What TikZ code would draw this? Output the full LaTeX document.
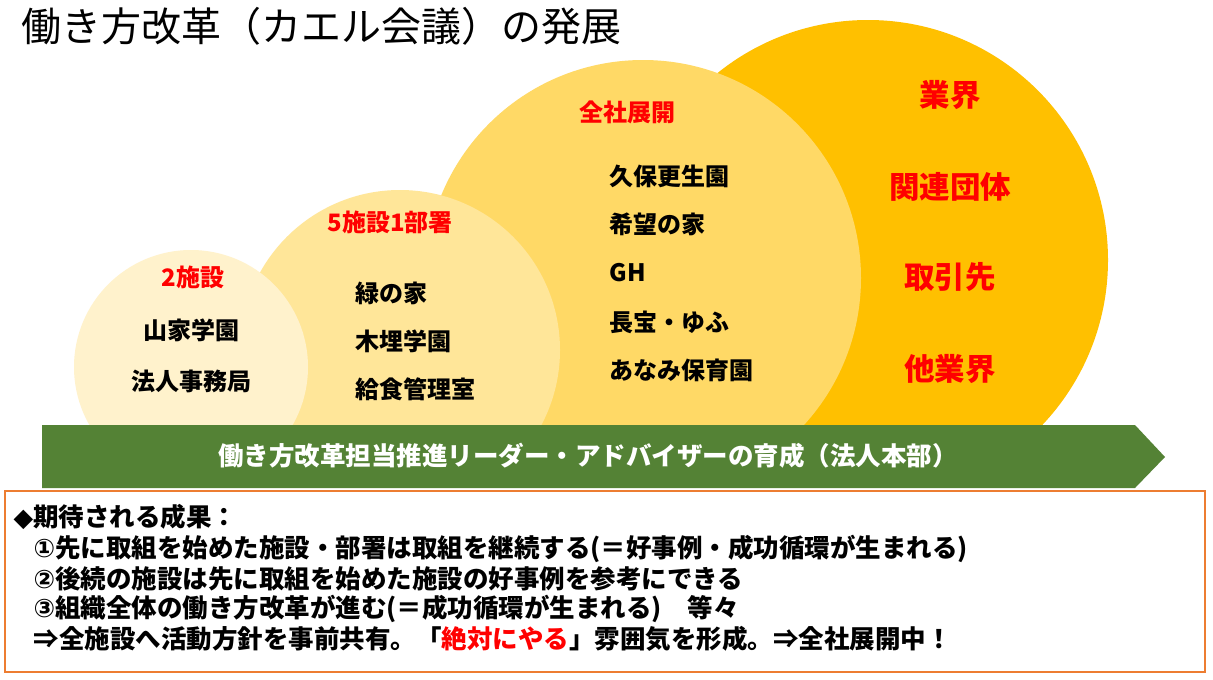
\documentclass[tikz,border=0pt]{standalone}
\usepackage{fontspec}
\setmainfont{Noto Sans CJK JP}
\newfontfamily\symf{DejaVu Sans}
\definecolor{c1}{HTML}{FFF2CC}
\definecolor{c2}{HTML}{FFE699}
\definecolor{c3}{HTML}{FFD966}
\definecolor{c4}{HTML}{FFC000}
\definecolor{grn}{HTML}{548235}
\definecolor{org}{HTML}{ED7D31}
\definecolor{rd}{HTML}{FF0000}
\begin{document}
\begin{tikzpicture}[x=1pt,y=-1pt,
  lab/.style={font=\fontsize{24}{28}\selectfont\bfseries,anchor=center},
  hd/.style={font=\fontsize{24}{28}\selectfont\bfseries,text=rd},
  big/.style={font=\fontsize{30.5}{36}\selectfont\bfseries,text=rd},
  bx/.style={font=\fontsize{25.5}{30}\selectfont\bfseries,anchor=west}]
\useasboundingbox (0,0) rectangle (1213,680);
\fill[white] (0,0) rectangle (1213,680);
\begin{scope}
\clip (0,0) rectangle (1213,470);
\fill[c4] (868,260) circle[radius=240];
\fill[c3] (643,278) circle[radius=218];
\fill[c2] (400,350) circle[radius=160];
\fill[c1] (191,367) circle[radius=117];
\end{scope}
\node[anchor=west,font=\fontsize{40}{46}\selectfont] (title) at (18,26) {働き方改革（カエル会議）の発展};
\node[big] (b1) at (950,95) {業界};
\node[big] (b2) at (950,187) {関連団体};
\node[big] (b3) at (950,277) {取引先};
\node[big] (b4) at (950,369) {他業界};
\node[hd] (h3) at (627,112) {全社展開};
\node[lab,anchor=west] (a1) at (606,176) {久保更生園};
\node[lab,anchor=west] (a2) at (606,224) {希望の家};
\node[lab,anchor=west] (a3) at (606,273) {GH};
\node[lab,anchor=west] (a4) at (606,322) {長宝・ゆふ};
\node[lab,anchor=west] (a5) at (606,370) {あなみ保育園};
\node[hd] (h2) at (390,222) {5施設1部署};
\node[lab,anchor=west] (s1) at (352,293) {緑の家};
\node[lab,anchor=west] (s2) at (352,341) {木埋学園};
\node[lab,anchor=west] (s3) at (352,389) {給食管理室};
\node[hd] (h1) at (193,277) {2施設};
\node[lab] (f1) at (191,330) {山家学園};
\node[lab] (f2) at (191,381) {法人事務局};
\fill[grn] (42,425) -- (1135,425) -- (1165,457) -- (1135,488) -- (42,488) -- cycle;
\node[font=\fontsize{25.5}{30}\selectfont\bfseries,text=white] (arr) at (588,456) {働き方改革担当推進リーダー・アドバイザーの育成（法人本部）};
\draw[org,line width=2.5pt] (5,491) rectangle (1205,672);
\node[bx] (t0) at (10,517) {{\symf ◆}期待される成果：};
\node[bx] (t1) at (30,549) {{\symf ①}先に取組を始めた施設・部署は取組を継続する(＝好事例・成功循環が生まれる)};
\node[bx] (t2) at (30,579) {{\symf ②}後続の施設は先に取組を始めた施設の好事例を参考にできる};
\node[bx] (t3) at (30,609) {{\symf ③}組織全体の働き方改革が進む(＝成功循環が生まれる)　等々};
\node[bx] (t4) at (30,639) {⇒全施設へ活動方針を事前共有。「\textcolor{rd}{絶対にやる}」雰囲気を形成。⇒全社展開中！};
\end{tikzpicture}
\end{document}
